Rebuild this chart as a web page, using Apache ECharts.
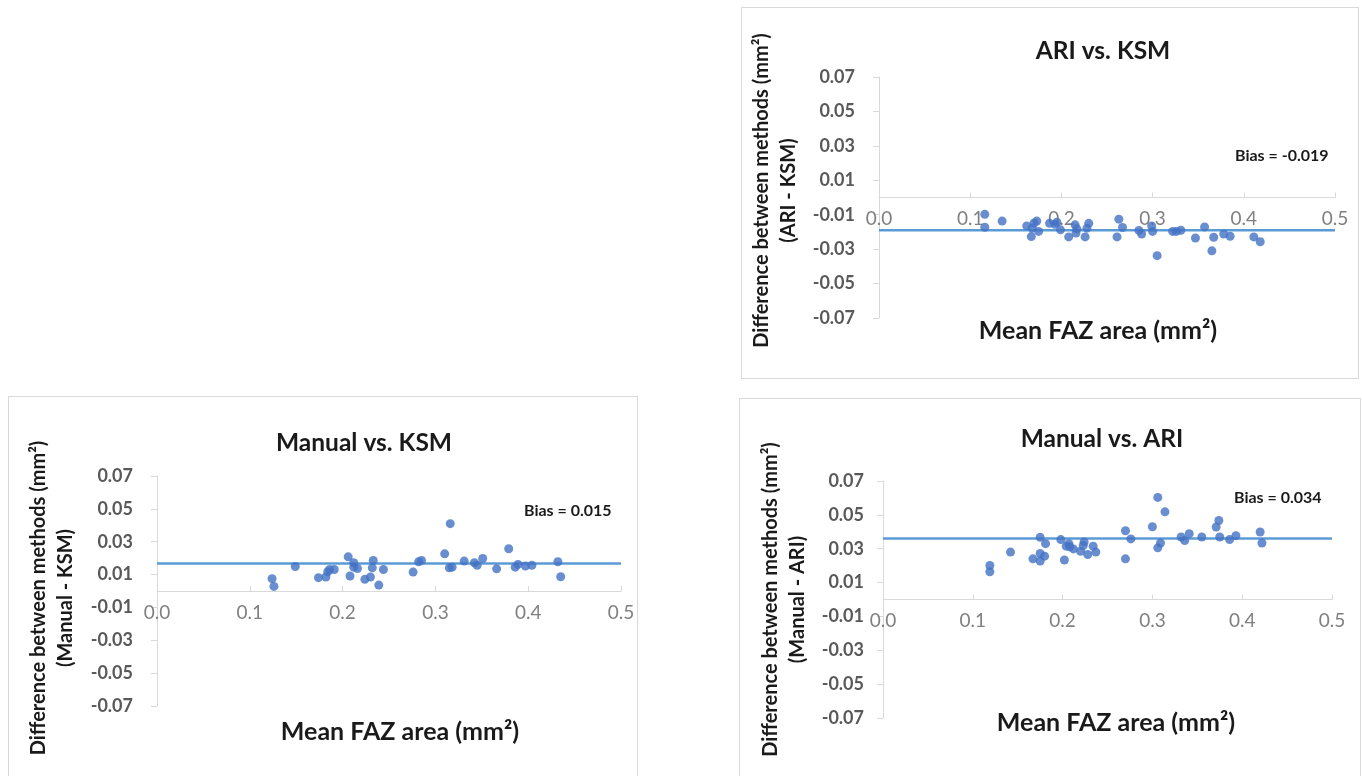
<!DOCTYPE html>
<html>
<head>
<meta charset="utf-8">
<script src="https://cdn.jsdelivr.net/npm/echarts@6/dist/echarts.min.js"></script>
<style>
html, body { margin: 0; padding: 0; background: #fff; overflow: hidden; width: 1362px; height: 776px; }
.panel { position: absolute; box-sizing: border-box; border: 1px solid #d9d9d9; background: #fff; }
#ariKsm { left: 741px; top: 7px; width: 618px; height: 372px; }
#manKsm { left: 8px; top: 396px; width: 630px; height: 400px; }
#manAri { left: 739px; top: 398px; width: 622px; height: 400px; }
</style>
</head>
<body>
<div class="panel" id="ariKsm"></div>
<div class="panel" id="manKsm"></div>
<div class="panel" id="manAri"></div>
<script>
// ARI vs. KSM
const ariKsmMean = [0.116, 0.116, 0.135, 0.162, 0.167, 0.170, 0.173, 0.175, 0.168, 0.187, 0.195, 0.199, 0.193,
  0.208, 0.215, 0.216, 0.217, 0.226, 0.228, 0.230, 0.261, 0.263, 0.267, 0.285, 0.288, 0.299, 0.300, 0.305,
  0.322, 0.326, 0.331, 0.347, 0.357, 0.365, 0.367, 0.378, 0.385, 0.411, 0.418];
const ariKsmDiff = [-0.0098, -0.0173, -0.0137, -0.0165, -0.0227, -0.0148, -0.0137, -0.0197, -0.0178, -0.0150,
  -0.0144, -0.0188, -0.0156, -0.0229, -0.0159, -0.0206, -0.0182, -0.0229, -0.0178, -0.0150, -0.0229, -0.0126,
  -0.0174, -0.0191, -0.0212, -0.0165, -0.0197, -0.0338, -0.0197, -0.0197, -0.0190, -0.0235, -0.0171, -0.0310,
  -0.0231, -0.0212, -0.0225, -0.0229, -0.0257];

// Manual vs. KSM
const manKsmMean = [0.124, 0.126, 0.149, 0.174, 0.182, 0.186, 0.191, 0.184, 0.206, 0.208, 0.212, 0.212, 0.216,
  0.224, 0.230, 0.233, 0.232, 0.239, 0.244, 0.276, 0.282, 0.285, 0.310, 0.315, 0.318, 0.316, 0.331, 0.342,
  0.345, 0.351, 0.366, 0.379, 0.386, 0.389, 0.397, 0.404, 0.432, 0.435];
const manKsmDiff = [0.0075, 0.0028, 0.0149, 0.0081, 0.0085, 0.0131, 0.0131, 0.0117, 0.0208, 0.0091, 0.0172,
  0.0145, 0.0137, 0.0071, 0.0085, 0.0186, 0.0141, 0.0036, 0.0131, 0.0115, 0.0178, 0.0186, 0.0226, 0.0141,
  0.0145, 0.0410, 0.0182, 0.0172, 0.0156, 0.0198, 0.0135, 0.0257, 0.0145, 0.0162, 0.0152, 0.0156, 0.0178, 0.0087];

// Manual vs. ARI
const manAriMean = [0.119, 0.119, 0.142, 0.167, 0.175, 0.175, 0.175, 0.180, 0.181, 0.198, 0.202, 0.204, 0.207,
  0.208, 0.212, 0.220, 0.223, 0.224, 0.228, 0.234, 0.237, 0.270, 0.270, 0.276, 0.300, 0.306, 0.309, 0.306,
  0.314, 0.332, 0.336, 0.341, 0.355, 0.371, 0.374, 0.375, 0.386, 0.393, 0.420, 0.422];
const manAriDiff = [0.0201, 0.0164, 0.0280, 0.0240, 0.0367, 0.0272, 0.0227, 0.0256, 0.0330, 0.0354, 0.0233,
  0.0315, 0.0330, 0.0311, 0.0299, 0.0285, 0.0319, 0.0340, 0.0266, 0.0315, 0.0280, 0.0240, 0.0406, 0.0358,
  0.0430, 0.0603, 0.0334, 0.0305, 0.0518, 0.0369, 0.0348, 0.0389, 0.0369, 0.0428, 0.0467, 0.0369, 0.0354,
  0.0377, 0.0399, 0.0334];

// bias lines as drawn (y position), and the printed labels
const biasLines = [-0.019, 0.0167, 0.036];
const biasLabels = ['Bias = -0.019', 'Bias = 0.015', 'Bias = 0.034'];
const xRange = [0, 0.5];

const FONT = 'Lato, "Open Sans", sans-serif';

function makePanel(id, p) {
  var chart = echarts.init(document.getElementById(id));
  var grid = Object.assign({ containLabel: false, outerBoundsMode: 'none' }, p.grid);
  chart.setOption({
    animation: false,
    textStyle: { fontFamily: FONT },
    title: {
      text: p.title, left: p.titleX, top: p.titleY, textAlign: 'center',
      textStyle: { fontSize: 24.5, fontWeight: 'bold', color: '#1a1a1a', fontFamily: FONT }
    },
    grid: grid,
    xAxis: {
      type: 'value', min: xRange[0], max: xRange[1], interval: 0.1,
      // y range is symmetric, so the zero line sits half the grid height above the bottom
      position: 'bottom', offset: -p.grid.height / 2,
      name: 'Mean FAZ area (mm²)', nameLocation: 'middle', nameGap: p.xNameGap,
      nameTextStyle: { fontSize: 25, fontWeight: 'bold', color: '#1a1a1a', fontFamily: FONT, padding: p.xNamePad },
      axisLine: { onZero: false, lineStyle: { color: '#d9d9d9', width: 1 } },
      axisTick: { inside: true, length: 5, lineStyle: { color: '#d9d9d9' } },
      axisLabel: { margin: 12, fontSize: 19, color: '#808080', fontFamily: FONT, formatter: function (v) { return v.toFixed(1); } },
      splitLine: { show: false }
    },
    yAxis: {
      type: 'value', min: -0.07, max: 0.07, interval: 0.02,
      name: 'Difference between methods (mm²)\n' + p.yName2,
      nameLocation: 'middle', nameRotate: 90, nameGap: p.yNameGap,
      nameTextStyle: { fontSize: 20, fontWeight: 'bold', color: '#1a1a1a', fontFamily: FONT, lineHeight: 27, padding: p.yNamePad },
      axisLine: { show: true, onZero: false, lineStyle: { color: '#d9d9d9' } },
      axisTick: { show: true, length: 6, lineStyle: { color: '#d9d9d9' } },
      axisLabel: { margin: p.yLabelMargin, fontSize: 18, fontWeight: 'bold', color: '#595959', fontFamily: FONT, formatter: function (v) { return v.toFixed(2); } },
      splitLine: { show: false }
    },
    graphic: [{
      type: 'text', left: p.biasX, top: p.biasY,
      style: { text: p.biasText, font: 'bold 16px Lato', fill: '#1a1a1a' }
    }],
    series: [{
      type: 'line',
      data: [[xRange[0], p.bias], [xRange[1], p.bias]],
      symbol: 'none', silent: true,
      lineStyle: { color: '#5b9bd5', width: 2.5 },
      z: 1
    }, {
      type: 'scatter',
      data: p.mean.map(function (x, i) { return [x, p.diff[i]]; }),
      symbolSize: 9,
      itemStyle: { color: '#4472c4' },
      z: 3
    }]
  });
}

makePanel('ariKsm', {
  title: 'ARI vs. KSM', titleX: 356, titleY: 26,
  grid: { left: 137, top: 69, width: 456, height: 241 },
  xNameGap: 121, xNamePad: [0, 18, 0, 0], yName2: '(ARI - KSM)', yNameGap: 71, yNamePad: [0, 0, 0, 14], yLabelMargin: 24,
  biasX: 493, biasY: 140, biasText: biasLabels[0], bias: biasLines[0],
  mean: ariKsmMean, diff: ariKsmDiff
});
makePanel('manKsm', {
  title: 'Manual vs. KSM', titleX: 350, titleY: 29,
  grid: { left: 148, top: 79, width: 464, height: 230 },
  xNameGap: 128, xNamePad: [0, 0, 0, 22], yName2: '(Manual - KSM)', yNameGap: 78, yNamePad: [0, 14, 0, 0], yLabelMargin: 24,
  biasX: 515, biasY: 106, biasText: biasLabels[1], bias: biasLines[1],
  mean: manKsmMean, diff: manKsmDiff
});
makePanel('manAri', {
  title: 'Manual vs. ARI', titleX: 357, titleY: 23,
  grid: { left: 143, top: 82, width: 449, height: 237 },
  xNameGap: 111, xNamePad: [0, 0, 0, 17], yName2: '(Manual - ARI)', yNameGap: 70, yNamePad: [0, 0, 0, 0], yLabelMargin: 19,
  biasX: 494, biasY: 91, biasText: biasLabels[2], bias: biasLines[2],
  mean: manAriMean, diff: manAriDiff
});
</script>
</body>
</html>
